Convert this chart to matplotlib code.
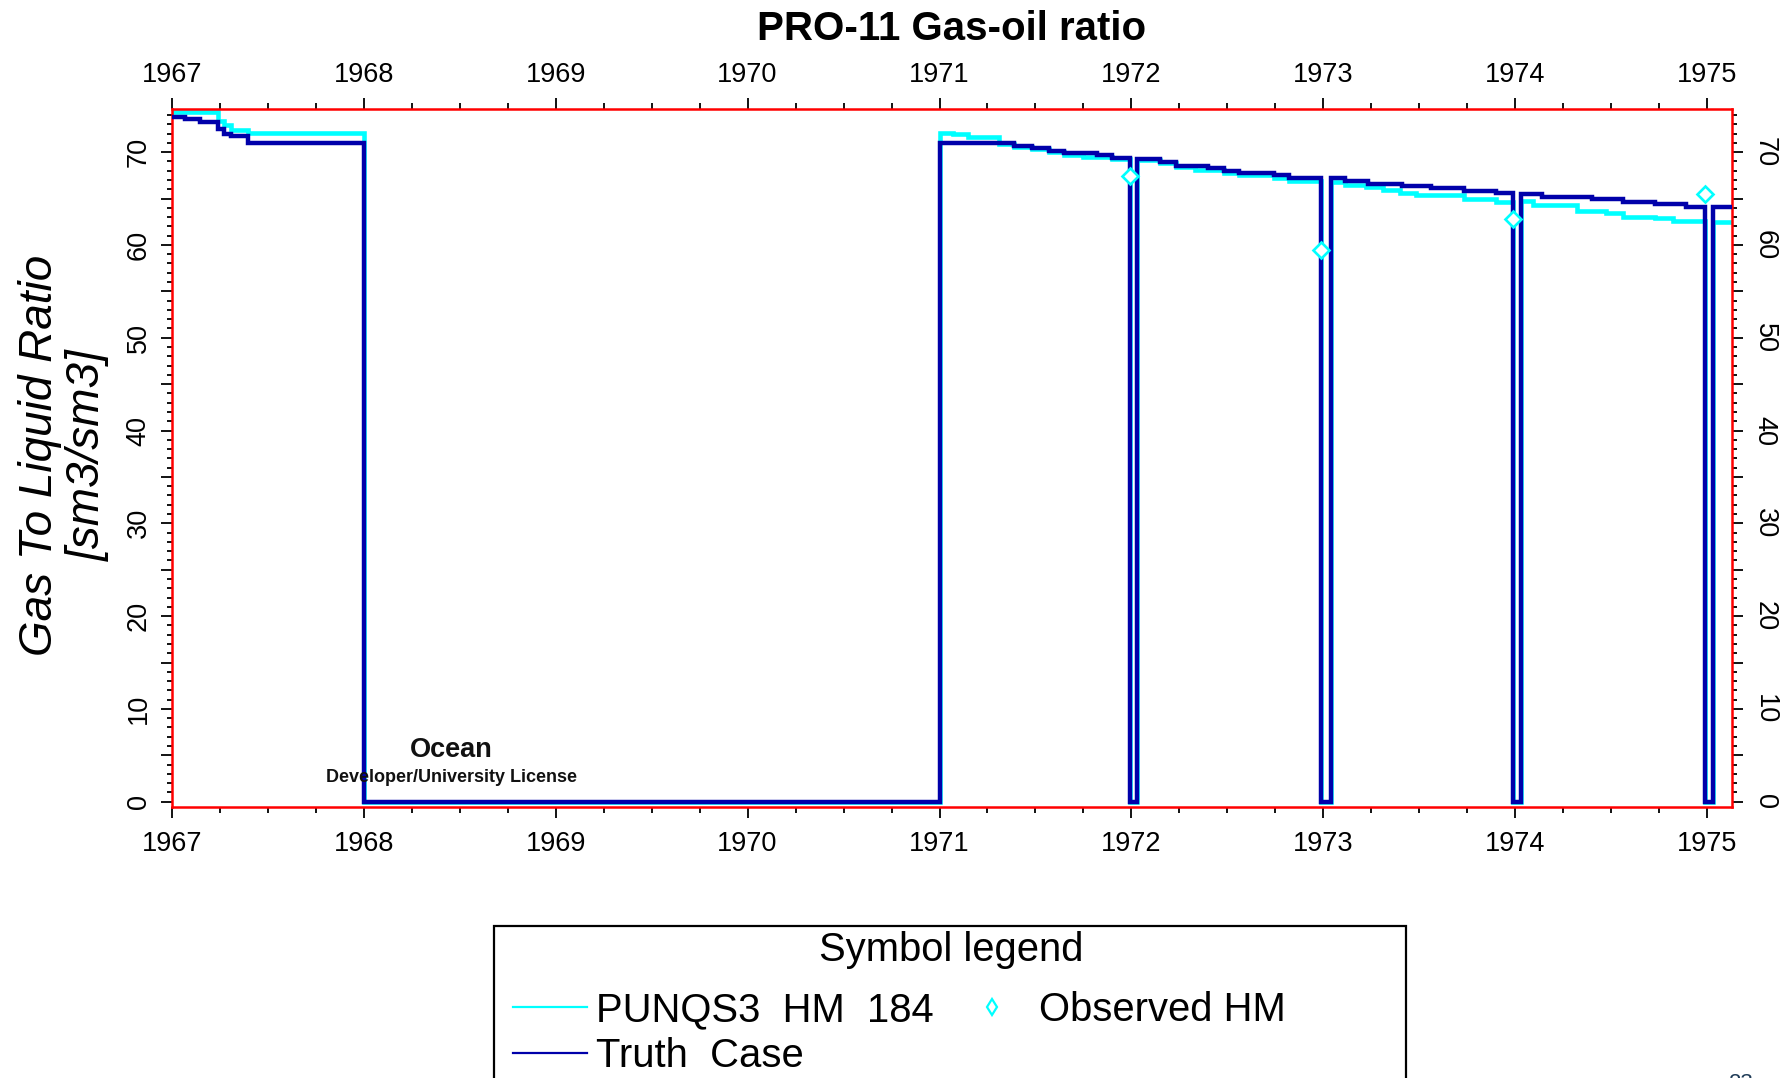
import matplotlib
matplotlib.use("Agg")
import matplotlib.pyplot as plt
from matplotlib.lines import Line2D
from matplotlib.patches import Rectangle
from matplotlib.ticker import FixedLocator, MultipleLocator, FuncFormatter

plt.rcParams['font.family'] = ['Liberation Sans', 'DejaVu Sans']

# ---------------- data (decimal years, sm3/sm3) ----------------
truth_dates = [1967.00, 1967.07, 1967.15, 1967.24, 1967.27, 1967.31, 1967.40,
               1968.00, 1971.00, 1971.39, 1971.48, 1971.57, 1971.65, 1971.82,
               1971.90, 1971.99, 1972.03, 1972.15, 1972.23, 1972.40, 1972.48,
               1972.56, 1972.74, 1972.82, 1972.99, 1973.04, 1973.11, 1973.23,
               1973.41, 1973.56, 1973.73, 1973.90, 1973.99, 1974.03, 1974.14,
               1974.40, 1974.56, 1974.73, 1974.89, 1974.99, 1975.03, 1975.13]
truth_values = [73.8, 73.6, 73.2, 72.5, 72.0, 71.7, 71.0,
                0.0, 70.95, 70.66, 70.4, 70.15, 69.9, 69.7,
                69.4, 0.0, 69.3, 68.9, 68.5, 68.3, 68.0,
                67.7, 67.5, 67.2, 0.0, 67.2, 66.9, 66.6,
                66.35, 66.1, 65.85, 65.6, 0.0, 65.45, 65.2,
                64.9, 64.65, 64.4, 64.1, 0.0, 64.05, 64.05]

hm_dates = [1967.00, 1967.24, 1967.27, 1967.31, 1967.40, 1968.00,
            1971.00, 1971.07, 1971.15, 1971.31, 1971.39, 1971.48, 1971.57,
            1971.65, 1971.75, 1971.90, 1971.99, 1972.03, 1972.15, 1972.23,
            1972.33, 1972.48, 1972.56, 1972.74, 1972.82, 1972.99, 1973.04,
            1973.11, 1973.22, 1973.31, 1973.40, 1973.48, 1973.73, 1973.90,
            1973.99, 1974.03, 1974.09, 1974.32, 1974.47, 1974.56, 1974.73,
            1974.82, 1974.99, 1975.03, 1975.13]
hm_values = [74.3, 73.4, 72.9, 72.4, 72.05, 0.0,
             72.1, 71.9, 71.6, 70.9, 70.6, 70.3, 70.0,
             69.7, 69.5, 69.3, 0.0, 69.2, 68.8, 68.4,
             68.1, 67.8, 67.5, 67.2, 66.85, 0.0, 66.8,
             66.45, 66.2, 65.9, 65.6, 65.4, 64.9, 64.65,
             0.0, 64.7, 64.3, 63.7, 63.4, 63.0, 62.9,
             62.6, 0.0, 62.5, 62.5]

obs_dates = [1971.99, 1972.99, 1973.99, 1974.99]
obs_values = [67.4, 59.4, 62.8, 65.45]

year_ticks = [1967, 1968, 1969, 1970, 1971, 1972, 1973, 1974, 1975]
series_labels = ['PUNQS3  HM  184', 'Truth  Case', 'Observed HM']

CYAN = '#00FFFF'
BLUE = '#0000AA'
RED = '#FF0000'

W, H = 1790, 1078
fig = plt.figure(figsize=(W / 100, H / 100), dpi=100)
fig.patch.set_facecolor('white')

ax_l, ax_r, ax_t, ax_b = 171.7, 1731.7, 108.5, 807.3
ax = fig.add_axes([ax_l / W, 1 - ax_b / H, (ax_r - ax_l) / W, (ax_b - ax_t) / H])

hm_line, = ax.plot(hm_dates, hm_values, drawstyle='steps-post', color=CYAN,
                   lw=3.3, zorder=2, solid_joinstyle='miter')
truth_line, = ax.plot(truth_dates, truth_values, drawstyle='steps-post', color=BLUE,
                      lw=3.2, zorder=3, solid_joinstyle='miter')
obs_pts, = ax.plot(obs_dates, obs_values, ls='none', marker='D', ms=8.5,
                   mfc='white', mec=CYAN, mew=1.9, zorder=4, clip_on=False)

ax.set_xlim(1967.0, 1975.127)
ax.set_ylim(-0.6, 74.7)

# spines
for s in ax.spines.values():
    s.set_color(RED)
    s.set_linewidth(1.8)

# x ticks
ax.xaxis.set_major_locator(FixedLocator(year_ticks))
ax.xaxis.set_major_formatter(FuncFormatter(lambda v, p: f"{int(round(v))}"))
ax.xaxis.set_minor_locator(MultipleLocator(0.25))
ax.tick_params(axis='x', which='both', direction='out', top=True, bottom=True,
               labeltop=True, labelbottom=True, colors='black', labelcolor='black')
ax.tick_params(axis='x', which='major', length=8, width=1.3, labelsize=19.5, pad=9)
ax.tick_params(axis='x', which='minor', length=4, width=1.3)

# y ticks
ax.yaxis.set_major_locator(MultipleLocator(5))
ax.yaxis.set_major_formatter(FuncFormatter(lambda v, p: f"{int(round(v))}" if int(round(v)) % 10 == 0 else ""))
ax.yaxis.set_minor_locator(MultipleLocator(1))
ax.tick_params(axis='y', which='both', direction='out', left=True, right=True,
               labelleft=True, labelright=True, colors='black', labelcolor='black')
ax.tick_params(axis='y', which='major', length=8, width=1.3, labelsize=19.5, pad=6.5)
ax.tick_params(axis='y', which='minor', length=3.5, width=1.3)
for t in ax.yaxis.get_major_ticks():
    t.label1.set_rotation(90)
    t.label1.set_va('center')
    t.label2.set_rotation(-90)
    t.label2.set_va('center')
# nudge top year labels slightly toward the axes
for t in ax.xaxis.get_major_ticks():
    t.label2.set_y(0.9955)

# title
fig.text(951.7 / W, 1 - 29.5 / H, 'PRO-11 Gas-oil ratio', ha='center', va='center',
         fontsize=29, fontweight='bold')

# y label
fig.text(64 / W, 1 - 455 / H, 'Gas To Liquid Ratio\n[sm3/sm3]', rotation=90,
         ha='center', va='center', multialignment='center', fontsize=33,
         fontstyle='italic', linespacing=1.1)

# watermark
ax.text(451 / W, 1 - 757.3 / H, 'Ocean', transform=fig.transFigure, ha='center',
        va='baseline', fontsize=19.5, fontweight='bold', color='#111111')
ax.text(452 / W, 1 - 781.7 / H, 'Developer/University License', transform=fig.transFigure,
        ha='center', va='baseline', fontsize=13, fontweight='bold', color='#111111')

# legend box (extends below the canvas)
box = Rectangle((494 / W, -0.08), (1406 - 494) / W, (1 - 926 / H) + 0.08,
                transform=fig.transFigure, fill=False, edgecolor='black', lw=1.6,
                clip_on=False)
fig.patches.append(box)
fig.text(951 / W, 1 - 961 / H, 'Symbol legend', ha='center', va='baseline',
         fontsize=28.8)

h_hm = Line2D([], [], color=CYAN, lw=1.6)
h_truth = Line2D([], [], color=BLUE, lw=1.6)
h_obs = Line2D([], [], ls='none', marker='d', ms=8, mfc='white', mec=CYAN, mew=1.6)
fig.legend([h_hm, h_truth, h_obs], series_labels, loc='upper left',
           bbox_to_anchor=(513 / W, 1 - 991 / H), ncol=2, frameon=False,
           fontsize=28.8, handlelength=1.84, handletextpad=0.24,
           columnspacing=0.54, borderpad=0, labelspacing=0.2, borderaxespad=0)

# page number (cut off at bottom)
fig.text(1741 / W, 1 - 1073 / H, '23', ha='center', va='top', fontsize=16,
         color='#1f3b57')

fig.savefig('out.png', dpi=100, facecolor='white')
